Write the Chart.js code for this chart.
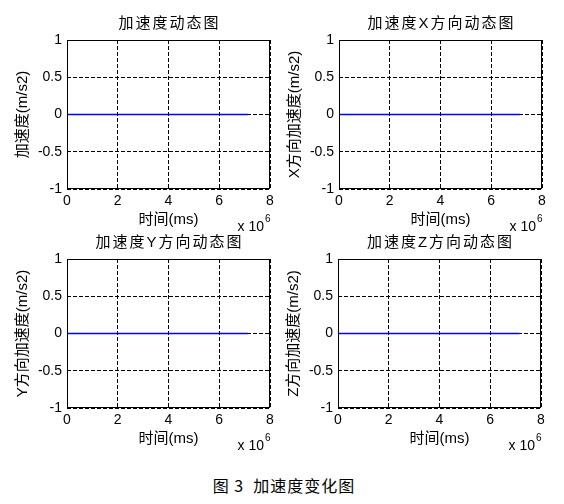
<!DOCTYPE html>
<html>
<head>
<meta charset="utf-8">
<script src="https://cdn.jsdelivr.net/npm/chart.js@4.4.1/dist/chart.umd.min.js"></script>
<style>
  html, body { margin: 0; padding: 0; background: #fff; }
  #fig { position: relative; width: 564px; height: 504px; background: #fff; overflow: hidden; }
  #fig canvas { position: absolute; }
  #caption {
    position: absolute; left: 0; width: 568px; top: 473px; text-align: center;
    font: 16px "Noto Sans CJK SC", sans-serif; letter-spacing: 1px; color: #000;
  }
</style>
</head>
<body>
<div id="fig">
  <canvas id="c0" width="282" height="232" style="left:0px;top:0px"></canvas>
  <canvas id="c1" width="282" height="232" style="left:272px;top:0px"></canvas>
  <canvas id="c2" width="282" height="232" style="left:0px;top:219px"></canvas>
  <canvas id="c3" width="282" height="232" style="left:271px;top:219px"></canvas>
  <div id="caption">图 3&nbsp; 加速度变化图</div>
</div>
<script>
// time axis in ms, the plotted record stops a bit past 7e6
const timeMs = [0, 7150000];
// acceleration readings (all flat at zero)
const accelTotal = [0, 0];
const accelX = [0, 0];
const accelY = [0, 0];
const accelZ = [0, 0];

const xTicks = [0, 2, 4, 6, 8]; // shown as x 10^6
const yTicks = [-1, -0.5, 0, 0.5, 1];

const panelTitles = ["加速度动态图", "加速度X方向动态图", "加速度Y方向动态图", "加速度Z方向动态图"];
const yTitles = ["加速度(m/s2)", "X方向加速度(m/s2)", "Y方向加速度(m/s2)", "Z方向加速度(m/s2)"];
const xTitle = "时间(ms)";
const panelData = [accelTotal, accelX, accelY, accelZ];

const FONT = '"Liberation Sans", "Noto Sans CJK SC", sans-serif';
const X_SCALE = 1e6;

// box, panel title and the "x 10^6" exponent label
const matlabAxes = {
  id: "matlabAxes",
  afterDraw(chart, args, opts) {
    const { ctx, chartArea: a } = chart;
    ctx.save();
    ctx.setLineDash([]);
    ctx.strokeStyle = "#000";
    ctx.lineWidth = 1;
    ctx.strokeRect(Math.round(a.left) + 0.5, Math.round(a.top) + 0.5,
                   Math.round(a.right - a.left) - 1, Math.round(a.bottom - a.top) - 1);

    ctx.fillStyle = "#000";
    ctx.font = "15px " + FONT;
    ctx.textAlign = "center";
    ctx.textBaseline = "middle";
    ctx.letterSpacing = "2px";
    ctx.fillText(opts.title, (a.left + a.right) / 2 + 1, a.top - 16);
    ctx.letterSpacing = "0px";

    ctx.font = "14px " + FONT;
    ctx.textAlign = "right";
    ctx.fillText("x 10", a.right - 6, a.bottom + 38);
    ctx.font = "10px " + FONT;
    ctx.textAlign = "left";
    ctx.fillText("6", a.right - 5, a.bottom + 30);
    ctx.restore();
  }
};

function makePanel(id, i) {
  const points = timeMs.map((t, k) => ({ x: t, y: panelData[i][k] }));
  return new Chart(document.getElementById(id), {
    type: "line",
    data: {
      datasets: [{
        data: points,
        borderColor: "#0000ff",
        borderWidth: 1.5,
        pointRadius: 0,
        fill: false,
        tension: 0
      }]
    },
    plugins: [matlabAxes],
    options: {
      responsive: false,
      animation: false,
      devicePixelRatio: 1,
      layout: { padding: { top: 40, right: 12, bottom: 0, left: 0 } },
      plugins: {
        legend: { display: false },
        tooltip: { enabled: false },
        matlabAxes: { title: panelTitles[i] }
      },
      scales: {
        x: {
          type: "linear",
          min: xTicks[0] * X_SCALE,
          max: xTicks[xTicks.length - 1] * X_SCALE,
          afterBuildTicks: (s) => { s.ticks = xTicks.map(v => ({ value: v * X_SCALE })); },
          afterFit: (s) => { s.height = 43; },
          ticks: {
            callback: (v) => String(v / X_SCALE),
            color: "#000",
            font: { family: FONT, size: 14 },
            padding: 4,
            maxRotation: 0
          },
          grid: { color: "#000", lineWidth: 1, drawTicks: false },
          border: { display: false, dash: [4, 2] },
          title: {
            display: true, text: xTitle, color: "#000",
            font: { family: FONT, size: 15 },
            padding: { top: 0, bottom: 3.5 }
          }
        },
        y: {
          type: "linear",
          min: yTicks[0],
          max: yTicks[yTicks.length - 1],
          afterBuildTicks: (s) => { s.ticks = yTicks.map(v => ({ value: v })); },
          afterFit: (s) => { s.width = 67; },
          ticks: {
            callback: (v) => String(v),
            color: "#000",
            font: { family: FONT, size: 14 },
            padding: 5
          },
          grid: { color: "#000", lineWidth: 1, drawTicks: false },
          border: { display: false, dash: [4, 2] },
          title: {
            display: true, text: yTitles[i], color: "#000",
            font: { family: FONT, size: 15 },
            padding: { top: 13.5, bottom: 0 }
          }
        }
      }
    }
  });
}

["c0", "c1", "c2", "c3"].forEach((id, i) => makePanel(id, i));
</script>
</body>
</html>
